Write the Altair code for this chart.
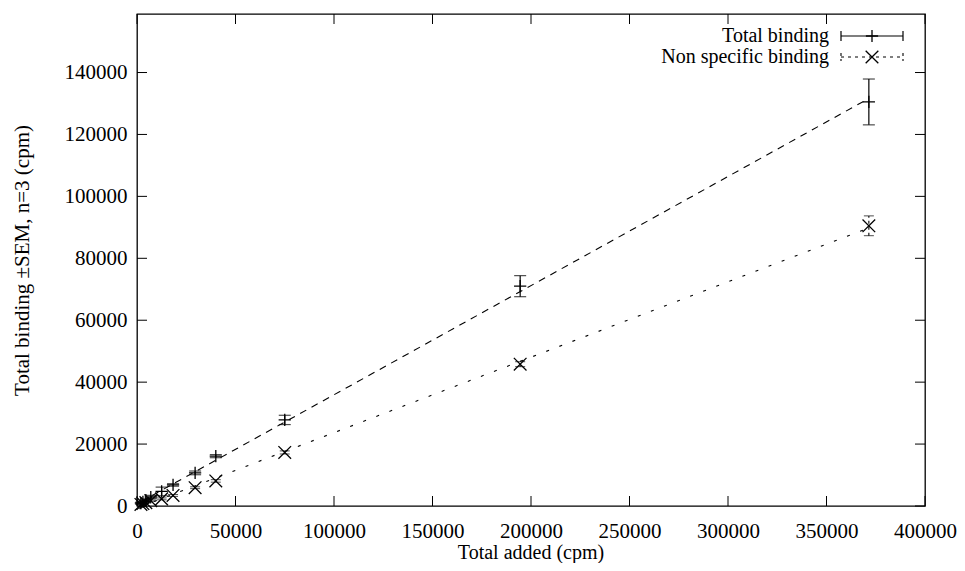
import altair as alt
import pandas as pd

# ---- data ----
added = [2000, 3000, 4500, 7000, 12500, 18300, 29500, 40000, 75000, 194500, 371500]
total_binding = [900, 1300, 1900, 2900, 4700, 6800, 10700, 16100, 27800, 71000, 130500]
total_sem = [300, 300, 400, 500, 1400, 400, 600, 500, 1500, 3400, 7400]
nsb_binding = [500, 800, 1100, 1700, 2300, 3400, 5900, 8100, 17300, 45800, 90500]
nsb_sem = [100, 100, 150, 200, 300, 300, 300, 400, 500, 800, 3200]

series_names = ["Total binding", "Non specific binding"]
x_ticks = [0, 50000, 100000, 150000, 200000, 250000, 300000, 350000, 400000]
y_ticks = [0, 20000, 40000, 60000, 80000, 100000, 120000, 140000]
x_title = ["Total added (cpm)"]
y_title = "Total binding \u00b1SEM, n=3 (cpm)"

W, H = 788, 492
FONT = "'Liberation Serif', 'Times New Roman', serif"
FS = 21
FS_SMALL = 20
TL = 10  # inward tick length

df = pd.DataFrame({
    "added": added,
    "total": total_binding,
    "t_lo": [v - s for v, s in zip(total_binding, total_sem)],
    "t_hi": [v + s for v, s in zip(total_binding, total_sem)],
    "nsb": nsb_binding,
    "n_lo": [v - s for v, s in zip(nsb_binding, nsb_sem)],
    "n_hi": [v + s for v, s in zip(nsb_binding, nsb_sem)],
})

xs = alt.Scale(domain=[0, 400000], nice=False, zero=False)
ys = alt.Scale(domain=[0, 158900], nice=False, zero=False)

PLUS = "M-1,0L1,0M0,-1L0,1"
CROSS = "M-1,-1L1,1M-1,1L1,-1"

base = alt.Chart(df)

x_enc = alt.X("added:Q", scale=xs, title=None,
              axis=alt.Axis(values=x_ticks, format="d", grid=False, ticks=False, domain=False,
                            labelFont=FONT, labelFontSize=FS, labelColor="black",
                            labelPadding=14, labelFlush=False))
y_axis = alt.Axis(values=y_ticks, format="d", grid=False, ticks=False, domain=False,
                  labelFont=FONT, labelFontSize=FS, labelColor="black", labelPadding=10,
                  titleFont=FONT, titleFontSize=FS, titleFontWeight="normal",
                  titleColor="black", titlePadding=32, labelFlush=False)

# fit lines
fit_total = base.transform_regression("added", "total", method="linear").mark_line(
    color="black", strokeWidth=1.1, strokeDash=[7, 6]).encode(
    x=x_enc, y=alt.Y("total:Q", scale=ys, title=y_title, axis=y_axis))
fit_nsb = base.transform_regression("added", "nsb", method="linear").mark_line(
    color="black", strokeWidth=1.1, strokeDash=[3, 11]).encode(
    x=alt.X("added:Q", scale=xs), y=alt.Y("nsb:Q", scale=ys))

# total error bars
t_bar = base.mark_rule(color="black", strokeWidth=1.2).encode(
    x=alt.X("added:Q", scale=xs), y=alt.Y("t_lo:Q", scale=ys), y2="t_hi:Q")
t_cap_hi = base.mark_tick(orient="horizontal", color="black", size=12, thickness=1.2).encode(
    x=alt.X("added:Q", scale=xs), y=alt.Y("t_hi:Q", scale=ys))
t_cap_lo = base.mark_tick(orient="horizontal", color="black", size=12, thickness=1.2).encode(
    x=alt.X("added:Q", scale=xs), y=alt.Y("t_lo:Q", scale=ys))
t_pts = base.mark_point(shape=PLUS, size=150, filled=False, color="black", strokeWidth=1.3,
                        opacity=1).encode(
    x=alt.X("added:Q", scale=xs), y=alt.Y("total:Q", scale=ys))

# nsb error bars (dotted)
n_bar = base.mark_rule(color="black", strokeWidth=1.1, strokeDash=[3, 3]).encode(
    x=alt.X("added:Q", scale=xs), y=alt.Y("n_lo:Q", scale=ys), y2="n_hi:Q")
n_cap_hi = base.mark_tick(orient="horizontal", color="black", size=10, thickness=1,
                          strokeDash=[3, 3]).encode(
    x=alt.X("added:Q", scale=xs), y=alt.Y("n_hi:Q", scale=ys))
n_cap_lo = base.mark_tick(orient="horizontal", color="black", size=10, thickness=1,
                          strokeDash=[3, 3]).encode(
    x=alt.X("added:Q", scale=xs), y=alt.Y("n_lo:Q", scale=ys))
n_pts = base.mark_point(shape=CROSS, size=160, filled=False, color="black", strokeWidth=1.3,
                        opacity=1).encode(
    x=alt.X("added:Q", scale=xs), y=alt.Y("nsb:Q", scale=ys))

# inward mirrored ticks
xt = alt.Chart(pd.DataFrame({"v": x_ticks}))
yt = alt.Chart(pd.DataFrame({"v": y_ticks}))
tick_b = xt.mark_rule(color="black", strokeWidth=1).encode(
    x=alt.X("v:Q", scale=xs), y=alt.value(H), y2=alt.value(H - TL))
tick_t = xt.mark_rule(color="black", strokeWidth=1).encode(
    x=alt.X("v:Q", scale=xs), y=alt.value(0), y2=alt.value(TL))
tick_l = yt.mark_rule(color="black", strokeWidth=1).encode(
    y=alt.Y("v:Q", scale=ys), x=alt.value(0), x2=alt.value(TL))
tick_r = yt.mark_rule(color="black", strokeWidth=1).encode(
    y=alt.Y("v:Q", scale=ys), x=alt.value(W), x2=alt.value(W - TL))

# x-axis title as text
x_title_mark = alt.Chart(pd.DataFrame({"t": x_title})).mark_text(
    align="center", baseline="middle", font=FONT, fontSize=FS_SMALL, color="black").encode(
    text="t:N", x=alt.value(W / 2), y=alt.value(H + 47))

# legend (manual)
LX_TEXT, LX0, LX1 = 692, 704, 766
LXM = (LX0 + LX1) / 2
R1, R2 = 22, 43
leg_txt1 = alt.Chart(pd.DataFrame({"t": [series_names[0]]})).mark_text(
    align="right", baseline="middle", font=FONT, fontSize=FS_SMALL, color="black").encode(
    text="t:N", x=alt.value(LX_TEXT), y=alt.value(R1))
leg_txt2 = alt.Chart(pd.DataFrame({"t": [series_names[1]]})).mark_text(
    align="right", baseline="middle", font=FONT, fontSize=FS_SMALL, color="black").encode(
    text="t:N", x=alt.value(LX_TEXT), y=alt.value(R2))
one = pd.DataFrame({"a": [0]})
leg_line1 = alt.Chart(one).mark_rule(color="black", strokeWidth=1.2).encode(
    x=alt.value(LX0), x2=alt.value(LX1), y=alt.value(R1))
leg_cap1a = alt.Chart(one).mark_rule(color="black", strokeWidth=1.2).encode(
    x=alt.value(LX0), y=alt.value(R1 - 5), y2=alt.value(R1 + 5))
leg_cap1b = alt.Chart(one).mark_rule(color="black", strokeWidth=1.2).encode(
    x=alt.value(LX1), y=alt.value(R1 - 5), y2=alt.value(R1 + 5))
leg_pt1 = alt.Chart(one).mark_point(
    shape=PLUS, size=150, filled=False, color="black", strokeWidth=1.3, opacity=1).encode(
    x=alt.value(LXM), y=alt.value(R1))
leg_line2 = alt.Chart(one).mark_rule(
    color="black", strokeWidth=1.1, strokeDash=[3, 4]).encode(
    x=alt.value(LX0), x2=alt.value(LX1), y=alt.value(R2))
leg_cap2a = alt.Chart(one).mark_rule(
    color="black", strokeWidth=1.1, strokeDash=[3, 3]).encode(
    x=alt.value(LX0), y=alt.value(R2 - 4), y2=alt.value(R2 + 4))
leg_cap2b = alt.Chart(one).mark_rule(
    color="black", strokeWidth=1.1, strokeDash=[3, 3]).encode(
    x=alt.value(LX1), y=alt.value(R2 - 4), y2=alt.value(R2 + 4))
leg_pt2 = alt.Chart(one).mark_point(
    shape=CROSS, size=160, filled=False, color="black", strokeWidth=1.3, opacity=1).encode(
    x=alt.value(LXM), y=alt.value(R2))

chart = alt.layer(
    fit_total, fit_nsb,
    t_bar, t_cap_hi, t_cap_lo, t_pts,
    n_bar, n_cap_hi, n_cap_lo, n_pts,
    tick_b, tick_t, tick_l, tick_r,
    x_title_mark,
    leg_txt1, leg_txt2, leg_line1, leg_cap1a, leg_cap1b, leg_pt1,
    leg_line2, leg_cap2a, leg_cap2b, leg_pt2,
).properties(
    width=W, height=H,
    autosize=alt.AutoSizeParams(type="none"),
    padding={"left": 129, "top": 6, "right": 32, "bottom": 57},
    background="white",
).configure_view(stroke="black", strokeWidth=1.3)

chart.save("out.html", embed_options={"renderer": "svg", "actions": False})
